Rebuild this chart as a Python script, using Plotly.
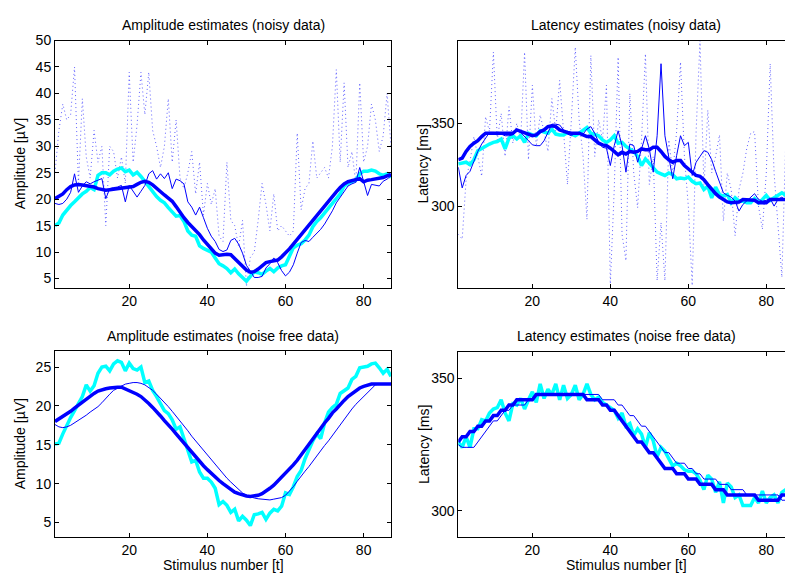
import plotly.graph_objects as go

W, H = 785, 576
t = list(range(1, 88))

# ---------------- Amplitude, noisy data ----------------
amp_noisy_raw = [25, 33, 38, 35, 36, 45, 23, 39, 28, 24, 33, 27, 30, 15, 30, 29, 24, 28, 23, 44,
                 27, 34, 44, 36, 44, 33, 30, 26, 30, 39, 27, 35, 24, 22, 25, 29, 21, 27, 17, 23,
                 19, 22, 13, 12, 27, 16, 15, 11, 16, 3.5, 9, 10, 16, 23, 19, 14, 21, 14, 15, 14,
                 13, 14, 32.5, 18, 22, 23, 31, 24, 25, 26, 24, 30, 44.5, 27, 42, 26, 29, 23, 42, 27,
                 30, 38, 35, 29, 32, 40, 30]
amp_noisy_thin = [19.2, 19.0, 19.2, 20.0, 21.3, 24.8, 21.3, 22.5, 23.3, 22.9, 23.3, 23.6, 23.9, 20.1, 22.0,
                  22.2, 22.3, 22.6, 19.5, 22.6, 21.4, 20.4, 21.5, 22.6, 24.8, 25.4, 23.8, 24.8, 23.9, 25.0,
                  22.0, 23.8, 23.5, 22.9, 19.5, 18.5, 17.0, 18.5, 16.5, 14.5, 13.0, 12.0, 10.5, 10.1, 10.4,
                  12.2, 12.6, 11.5, 9.8, 7.5, 6.4, 5.2, 5.2, 5.4, 7.0, 7.8, 8.9, 8.0, 6.5, 5.5,
                  6.2, 7.6, 9.8, 11.8, 12.2, 12.0, 12.8, 13.5, 14.3, 15.3, 16.5, 17.8, 19.3, 20.3, 21.5,
                  22.5, 22.9, 23.2, 26.0, 23.5, 20.7, 22.8, 22.6, 22.5, 23.4, 23.8, 24.4]
amp_noisy_thick = [20.1, 20.6, 21.0, 21.8, 22.4, 22.7, 22.8, 22.7, 22.6, 22.5, 22.3, 22.0, 21.8, 21.7, 21.8,
                   21.9, 22.0, 22.0, 22.1, 22.2, 22.4, 22.8, 23.2, 23.4, 23.2, 22.7, 22.0, 21.3, 20.8, 20.2,
                   19.6, 18.6, 17.5, 16.5, 15.6, 14.8, 14.2, 13.3, 12.3, 11.4, 10.6, 9.8, 9.4, 9.5, 9.6,
                   9.5, 8.8, 8.1, 7.4, 6.6, 6.2, 6.3, 6.8, 7.5, 8.0, 8.2, 8.4, 8.5, 9.1, 9.8,
                   10.6, 11.5, 12.4, 13.4, 14.3, 15.3, 16.2, 17.1, 18.0, 18.9, 19.8, 20.6, 21.4, 22.2, 22.9,
                   23.3, 23.5, 23.6, 23.9, 23.3, 23.6, 23.7, 23.8, 23.9, 24.1, 24.4, 24.7]
amp_noisy_true = [15.0, 15.5, 17.0, 18.0, 18.8, 19.5, 20.3, 21.0, 21.5, 22.2, 21.8, 24.5, 25.0, 25.0, 24.6,
                  25.3, 25.7, 25.9, 25.2, 25.5, 24.6, 25.1, 24.3, 23.3, 22.3, 21.3, 20.5, 19.8, 19.3, 18.4,
                  17.6, 16.8, 16.9, 15.8, 14.0, 13.2, 13.0, 11.2, 10.7, 10.4, 10.0, 8.9, 7.8, 7.4, 6.9,
                  6.1, 6.8, 5.9, 5.1, 4.5, 5.4, 6.3, 6.1, 5.8, 6.4, 6.9, 6.3, 7.0, 7.4, 7.6,
                  9.2, 10.8, 11.3, 11.6, 12.3, 13.2, 14.8, 15.8, 16.5, 17.4, 18.4, 19.3, 20.1, 21.0, 22.5,
                  23.0, 23.3, 23.6, 24.8, 25.3, 25.3, 25.5, 25.3, 24.8, 24.5, 24.8, 24.1]

# ---------------- Latency, noisy data ----------------
lat_noisy_raw = [283, 280, 316, 327, 342, 330, 318, 354, 345, 393, 340, 356, 330, 360, 338, 350, 340, 393, 328, 373,
                 336, 355, 345, 333, 365, 345, 376, 345, 313, 352, 396, 352, 330, 292, 391, 330, 352, 340, 373, 253,
                 310, 390, 283, 267, 368, 320, 299, 340, 392, 313, 330, 255, 290, 255, 340, 320, 345, 387, 330, 300,
                 252, 345, 400, 311, 358, 320, 330, 343, 291, 320, 310, 282, 310, 320, 335, 344, 345, 300, 286, 320,
                 386, 320, 290, 257, 340, 300, 320]
lat_noisy_thin = [323.5, 311, 318.5, 321, 327, 333, 337.5, 341, 344.5, 344.5, 344, 343.5, 342.5, 342.5, 343,
                  345.5, 344.5, 342, 339.5, 337, 336.5, 336.5, 339.5, 345, 349.5, 349.5, 349, 346, 343.5, 342.5,
                  344, 344, 343.5, 346.5, 348, 344, 338.5, 335.5, 335, 324.5, 336.5, 345.5, 336.5, 320.5, 337.5,
                  336.5, 326.5, 334.5, 342.5, 334.5, 320.5, 342.5, 386, 342.5, 330.5, 316.5, 330.5, 342.5, 336.5, 338.5,
                  318.5, 326.5, 330, 333.5, 332.5, 328, 321, 315, 308, 306.5, 305.5, 303, 297, 301, 303,
                  305, 307.5, 304, 303, 303.5, 304.5, 300, 304, 305.5, 303, 303.5, 304]
lat_noisy_thick = [328, 329, 333, 336, 338, 339.5, 342, 344, 344, 344, 344, 344, 344, 344, 344,
                   346, 345, 344, 343, 342.5, 343, 345, 346, 348, 348.5, 348, 346, 345, 344.5, 344,
                   344, 344, 343, 342, 342, 340, 338, 337, 336.5, 335, 333, 331, 332.5, 331.5, 333,
                   332.5, 333, 334.5, 334, 334, 335.5, 335.5, 333, 330, 328, 326.5, 327.5, 327.5, 324.5, 322.5,
                   320, 318.5, 318, 316, 313, 310, 307.5, 305.5, 304, 302.5, 302, 302, 302.5, 304, 304,
                   304, 303.5, 302, 302, 302, 304, 304, 304, 304, 304, 304, 304]
lat_noisy_true = [325.5, 326, 326.5, 325, 328, 333.5, 335, 336.5, 337.5, 338.5, 339, 340.5, 334.5, 341, 342.5,
                  340.5, 342.5, 338.5, 344, 343, 342.5, 345.5, 344.5, 344, 346.5, 343.5, 343, 343, 344.5, 343.5,
                  342.5, 344, 345.5, 347.5, 344, 343, 342.5, 340, 338.5, 340, 342.5, 338, 338.5, 336, 334.5,
                  333, 330, 324.5, 328.5, 326, 323.5, 320.5, 319.5, 318.5, 320, 319, 316.5, 317, 316.5, 317.5,
                  315, 313.5, 314, 310, 312, 305, 311.5, 307, 306, 307, 302, 305, 303, 303, 302,
                  302, 304.5, 302, 304, 306.5, 303.5, 305, 306, 308, 306.5, 307, 306]

# ---------------- Amplitude, noise free data ----------------
amp_free_thin = [17.6, 17.3, 17.2, 17.3, 17.5, 17.8, 18.1, 18.5, 18.8, 19.2, 19.5, 19.9, 20.4, 21.0, 21.5,
                 22.0, 22.3, 22.6, 22.8, 22.9, 23.0, 23.0, 22.9, 22.7, 22.4, 22.0, 21.5, 21.0, 20.4, 19.9,
                 19.3, 18.7, 18.1, 17.5, 16.8, 16.1, 15.5, 14.8, 14.2, 13.6, 13.0, 12.4, 11.8, 11.2, 10.7,
                 10.2, 9.7, 9.2, 8.8, 8.5, 8.3, 8.15, 8.05, 8.0, 7.9, 7.9, 8.0, 8.1, 8.2, 8.5,
                 9.0, 9.6, 10.3, 11.0, 11.6, 12.2, 12.9, 13.6, 14.2, 14.9, 15.5, 16.2, 16.9, 17.6, 18.3,
                 18.9, 19.6, 20.2, 20.7, 21.3, 21.8, 22.3, 22.7, 22.8, 22.8, 22.8, 22.8]
amp_free_thick = [18.0, 18.3, 18.6, 18.9, 19.3, 19.7, 20.1, 20.5, 20.9, 21.3, 21.6, 21.9, 22.1, 22.2, 22.3,
                  22.4, 22.4, 22.4, 22.2, 22.0, 21.8, 21.5, 21.2, 20.8, 20.3, 19.8, 19.3, 18.7, 18.1, 17.6,
                  17.0, 16.4, 15.8, 15.2, 14.6, 14.0, 13.4, 12.8, 12.3, 11.8, 11.3, 10.9, 10.4, 10.0, 9.6,
                  9.2, 8.9, 8.7, 8.5, 8.4, 8.35, 8.4, 8.5, 8.7, 9.0, 9.4, 9.8, 10.3, 10.8, 11.3,
                  11.8, 12.4, 13.0, 13.7, 14.4, 15.0, 15.7, 16.4, 17.1, 17.8, 18.4, 19.1, 19.6, 20.2, 20.7,
                  21.2, 21.6, 22.0, 22.3, 22.5, 22.7, 22.8, 22.8, 22.8, 22.8, 22.8, 22.8]
amp_free_true = [15.1, 15.2, 16.4, 17.5, 18.5, 19.4, 20.3, 21.2, 22.7, 21.9, 22.6, 24.2, 25.0, 25.1, 24.5,
                 25.4, 25.8, 25.6, 24.5, 25.5, 24.8, 24.6, 25.0, 23.0, 23.2, 22.0, 21.2, 20.3, 19.4, 19.0,
                 18.2, 17.0, 17.3, 15.8, 14.4, 12.8, 13.0, 11.5, 10.7, 10.7, 10.2, 9.4, 7.3, 7.7, 7.2,
                 6.3, 6.7, 5.2, 5.8, 5.3, 4.6, 6.0, 6.1, 6.3, 5.4, 6.2, 6.7, 6.5, 7.1, 8.8,
                 8.6, 9.6, 10.9, 11.7, 13.2, 14.4, 15.5, 16.4, 15.8, 17.8, 19.2, 19.8, 20.2, 21.6, 22.0,
                 22.3, 23.4, 23.8, 24.9, 25.0, 25.1, 25.4, 25.5, 24.9, 24.2, 24.7, 23.8]

# ---------------- Latency, noise free data ----------------
lat_free_thin = [325, 324, 324, 324, 324, 326, 328, 330, 332, 334, 334, 336, 338, 338, 340,
                 340, 340, 340, 342, 342, 344, 344, 344, 344, 344, 344, 344, 344, 344, 344,
                 344, 344, 344, 344, 344, 344, 344, 342, 342, 342, 342, 340, 340, 338, 336,
                 336, 334, 332, 332, 330, 328, 326, 324, 322, 322, 320, 318, 318, 318, 316,
                 316, 314, 314, 312, 312, 312, 312, 310, 310, 310, 308, 308, 308, 308, 306,
                 306, 306, 306, 306, 306, 306, 306, 306, 304, 304, 304, 304]
lat_free_thick = [326, 328, 328, 330, 330, 332, 332, 334, 334, 336, 336, 338, 338, 340, 340,
                  342, 342, 342, 342, 342, 344, 344, 344, 344, 344, 344, 344, 344, 344, 344,
                  344, 344, 344, 342, 342, 342, 342, 340, 340, 338, 338, 336, 334, 332, 330,
                  328, 326, 326, 324, 322, 322, 320, 318, 316, 316, 316, 314, 314, 314, 312,
                  312, 312, 310, 310, 310, 310, 308, 308, 308, 306, 306, 306, 306, 306, 306,
                  306, 306, 304, 304, 304, 304, 304, 304, 306, 306, 306, 306]
lat_free_true = [326, 324, 328, 324, 331, 331, 334.5, 334, 337, 338.5, 339, 342, 337, 334, 340.5,
                 340, 342.5, 338.5, 342, 345, 341, 348, 342.5, 346, 344, 348, 342, 347.5, 342.5, 344,
                 347.5, 342, 344, 348, 344, 342, 343, 341, 340, 339, 338, 335, 337, 332, 333,
                 328.5, 331, 329, 324, 329.5, 326.5, 320.5, 324, 322.5, 320, 317, 318, 317, 315.5, 315,
                 315, 314, 311.5, 308, 313.5, 312, 307, 311, 303, 310.5, 309, 305, 306, 302, 302,
                 302, 305, 303, 307.5, 303, 305, 306, 303, 307, 308, 305, 306]

titles = ["Amplitude estimates (noisy data)", "Latency estimates (noisy data)",
          "Amplitude estimates (noise free data)", "Latency estimates (noise free data)"]
ylabels = ["Amplitude [\u00b5V]", "Latency [ms]", "Amplitude [\u00b5V]", "Latency [ms]"]
xlabel = "Stimulus number [t]"
x_ticks = [20, 40, 60, 80]
y_ticks = [[5, 10, 15, 20, 25, 30, 35, 40, 45, 50], [300, 350], [5, 10, 15, 20, 25], [300, 350]]

FONT = "Liberation Sans, Arial, Helvetica, sans-serif"
BLUE = "#0000ff"
CYAN = "#00ffff"
DOT = "rgba(30,30,255,0.7)"

panels = [
    dict(raw=amp_noisy_raw, thin=amp_noisy_thin, thick=amp_noisy_thick, true=amp_noisy_true),
    dict(raw=lat_noisy_raw, thin=lat_noisy_thin, thick=lat_noisy_thick, true=lat_noisy_true),
    dict(raw=None, thin=amp_free_thin, thick=amp_free_thick, true=amp_free_true),
    dict(raw=None, thin=lat_free_thin, thick=lat_free_thick, true=lat_free_true),
]

# pixel boxes (left, top, right, bottom)
boxes = [(55, 33, 391, 284), (458.3, 33, 785, 284), (55, 348.3, 391, 536.7), (458.3, 349, 785, 536.7)]
xranges = [[1, 87], [1, 84.8], [1, 87], [1, 84.8]]
yranges = [[3.2, 50], [250.5, 400], [3.1, 27], [290, 360]]

fig = go.Figure()
layout = dict(width=W, height=H, margin=dict(l=0, r=0, t=0, b=0),
              paper_bgcolor="white", plot_bgcolor="white", showlegend=False,
              font=dict(family=FONT, size=14, color="black"))
annotations = []

for i, p in enumerate(panels):
    xa = "x" if i == 0 else f"x{i+1}"
    ya = "y" if i == 0 else f"y{i+1}"
    if p["raw"] is not None:
        fig.add_trace(go.Scatter(x=t, y=p["raw"], mode="lines", xaxis=xa, yaxis=ya,
                                 line=dict(color=DOT, width=1, dash="1px,3px")))
    fig.add_trace(go.Scatter(x=t, y=p["true"], mode="lines", xaxis=xa, yaxis=ya,
                             line=dict(color=CYAN, width=3.5)))
    fig.add_trace(go.Scatter(x=t, y=p["thin"], mode="lines", xaxis=xa, yaxis=ya,
                             line=dict(color=BLUE, width=1)))
    fig.add_trace(go.Scatter(x=t, y=p["thick"], mode="lines", xaxis=xa, yaxis=ya,
                             line=dict(color=BLUE, width=3.5)))

    l, tp, r, b = boxes[i]
    right_panel = i in (1, 3)
    xkey = "xaxis" if i == 0 else f"xaxis{i+1}"
    ykey = "yaxis" if i == 0 else f"yaxis{i+1}"
    layout[xkey] = dict(domain=[l / W, r / W], range=xranges[i], anchor=ya,
                        tickvals=x_ticks, ticks="inside", ticklen=4, tickcolor="black",
                        showline=True, linecolor="black", linewidth=1, mirror="ticks",
                        showgrid=False, zeroline=False,
                        tickfont=dict(size=14, family=FONT, color="black"))
    layout[ykey] = dict(domain=[(H - b) / H, (H - tp) / H], range=yranges[i], anchor=xa,
                        tickvals=y_ticks[i], ticks="inside", ticklen=4, tickcolor="black",
                        showline=True, linecolor="black", linewidth=1,
                        mirror=False if right_panel else "ticks",
                        showgrid=False, zeroline=False,
                        tickfont=dict(size=14, family=FONT, color="black"))
    cx = (l + (l + 336 if right_panel else r)) / 2 / W
    annotations.append(dict(text=titles[i], x=cx, y=(H - (tp - 16)) / H, xref="paper", yref="paper",
                            xanchor="center", yanchor="middle", showarrow=False,
                            font=dict(size=14, family=FONT, color="black")))
    annotations.append(dict(text=ylabels[i], x=(l - 35) / W, y=(H - (tp + b) / 2) / H,
                            xref="paper", yref="paper", textangle=-90,
                            xanchor="center", yanchor="middle", showarrow=False,
                            font=dict(size=14, family=FONT, color="black")))
    if i >= 2:
        annotations.append(dict(text=xlabel, x=cx, y=(H - 565) / H, xref="paper", yref="paper",
                                xanchor="center", yanchor="middle", showarrow=False,
                                font=dict(size=14, family=FONT, color="black")))

layout["annotations"] = annotations
fig.update_layout(**layout)
fig.write_html("out.html", config={"displayModeBar": False},
               post_script="document.body.style.margin='0';document.body.style.overflow='hidden';")
